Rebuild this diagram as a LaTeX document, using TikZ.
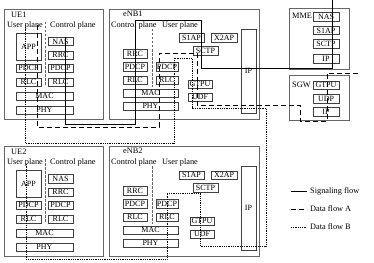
\documentclass[tikz,border=0pt]{standalone}
\usepackage{fontspec}
\setmainfont{Liberation Serif}
\usepackage{tikz}
\tikzset{
  entity/.style={rectangle, draw=black!60, line width=0.6pt, inner sep=0pt, anchor=north west},
  layer/.style={rectangle, draw=black!75, line width=0.5pt, inner sep=0pt,
    minimum height=8.5pt, font=\fontsize{8}{9}\selectfont},
  lbl/.style={anchor=west, inner sep=0pt, font=\fontsize{8.3}{9}\selectfont},
  divider/.style={draw=black!60, line width=0.5pt, dash pattern=on 2.5pt off 1.5pt},
  sigflow/.style={line width=0.9pt, color=black},
  flowa/.style={line width=0.9pt, color=black, dash pattern=on 5pt off 3pt},
  flowb/.style={line width=0.8pt, color=black, dash pattern=on 0.8pt off 1pt}
}

\begin{document}
\begin{tikzpicture}[x=1pt, y=-1pt]
  \useasboundingbox (0,0) rectangle (374,262);

  % UE1
  \node[entity, minimum width=99, minimum height=110] (ue1) at (4,9) {};
  \node[lbl] (ue1name) at (11,15) {UE1};
  \node[lbl] (ue1up) at (7,26) {User plane};
  \node[lbl] (ue1cp) at (50,26) {Control plane};
  \coordinate (ue1d1) at (45,22);
  \coordinate (ue1d2) at (45,85);
  \draw[divider] (ue1d1) -- (ue1d2);
  \node[layer, minimum width=25, minimum height=27] (ue1app) at (28.5,46.5) {APP};
  \node[layer, minimum width=25] (ue1nas) at (60.5,41.5) {NAS};
  \node[layer, minimum width=25] (ue1rrc) at (60.5,55) {RRC};
  \node[layer, minimum width=25] (ue1pdcpu) at (28.5,68) {PDCP};
  \node[layer, minimum width=25] (ue1pdcpc) at (60.5,68) {PDCP};
  \node[layer, minimum width=25] (ue1rlcu) at (28.5,82) {RLC};
  \node[layer, minimum width=25] (ue1rlcc) at (60.5,82) {RLC};
  \node[layer, minimum width=57] (ue1mac) at (44.5,96) {MAC};
  \node[layer, minimum width=57] (ue1phy) at (44.5,110) {PHY};

  % UE2
  \node[entity, minimum width=99, minimum height=110] (ue2) at (4,146) {};
  \node[lbl] (ue2name) at (11,152) {UE2};
  \node[lbl] (ue2up) at (7,163) {User plane};
  \node[lbl] (ue2cp) at (50,163) {Control plane};
  \coordinate (ue2d1) at (45,159);
  \coordinate (ue2d2) at (45,222);
  \draw[divider] (ue2d1) -- (ue2d2);
  \node[layer, minimum width=25, minimum height=27] (ue2app) at (28.5,183.5) {APP};
  \node[layer, minimum width=25] (ue2nas) at (60.5,178.5) {NAS};
  \node[layer, minimum width=25] (ue2rrc) at (60.5,192) {RRC};
  \node[layer, minimum width=25] (ue2pdcpu) at (28.5,205) {PDCP};
  \node[layer, minimum width=25] (ue2pdcpc) at (60.5,205) {PDCP};
  \node[layer, minimum width=25] (ue2rlcu) at (28.5,219) {RLC};
  \node[layer, minimum width=25] (ue2rlcc) at (60.5,219) {RLC};
  \node[layer, minimum width=57] (ue2mac) at (44.5,233) {MAC};
  \node[layer, minimum width=57] (ue2phy) at (44.5,247) {PHY};

  % eNB1
  \node[entity, minimum width=150, minimum height=110] (enb1) at (109,9) {};
  \node[lbl] (enb1name) at (123,14) {eNB1};
  \node[lbl] (enb1cp) at (111,26) {Control plane};
  \node[lbl] (enb1up) at (162,26) {User plane};
  \coordinate (enb1d1) at (152,29);
  \coordinate (enb1d2) at (152,87);
  \draw[divider] (enb1d1) -- (enb1d2);
  \node[layer, minimum width=24] (enb1rrc) at (135,53.5) {RRC};
  \node[layer, minimum width=24] (enb1pdcpc) at (135,66.5) {PDCP};
  \node[layer, minimum width=24] (enb1rlcc) at (135,80) {RLC};
  \node[layer, minimum width=22] (enb1pdcpu) at (167,66.5) {PDCP};
  \node[layer, minimum width=22] (enb1rlcu) at (167,80) {RLC};
  \node[layer, minimum width=55] (enb1mac) at (150.5,93) {MAC};
  \node[layer, minimum width=55] (enb1phy) at (150.5,106) {PHY};
  \node[layer, minimum width=25] (enb1s1ap) at (191.5,38) {S1AP};
  \node[layer, minimum width=26] (enb1x2ap) at (224,38) {X2AP};
  \node[layer, minimum width=25] (enb1sctp) at (205.5,50.5) {SCTP};
  \node[layer, minimum width=24] (enb1gtpu) at (200,84) {GTPU};
  \node[layer, minimum width=24] (enb1udf) at (200,97) {UDF};
  \node[layer, minimum width=15, minimum height=84] (enb1ip) at (248.5,71) {IP};

  % eNB2
  \node[entity, minimum width=150, minimum height=110] (enb2) at (109,146) {};
  \node[lbl] (enb2name) at (123,151) {eNB2};
  \node[lbl] (enb2cp) at (111,163) {Control plane};
  \node[lbl] (enb2up) at (162,163) {User plane};
  \coordinate (enb2d1) at (152,166);
  \coordinate (enb2d2) at (152,224);
  \draw[divider] (enb2d1) -- (enb2d2);
  \node[layer, minimum width=24] (enb2rrc) at (135,190.5) {RRC};
  \node[layer, minimum width=24] (enb2pdcpc) at (135,203.5) {PDCP};
  \node[layer, minimum width=24] (enb2rlcc) at (135,217) {RLC};
  \node[layer, minimum width=22] (enb2pdcpu) at (167,203.5) {PDCP};
  \node[layer, minimum width=22] (enb2rlcu) at (167,217) {RLC};
  \node[layer, minimum width=55] (enb2mac) at (150.5,230) {MAC};
  \node[layer, minimum width=55] (enb2phy) at (150.5,243) {PHY};
  \node[layer, minimum width=25] (enb2s1ap) at (191.5,175) {S1AP};
  \node[layer, minimum width=26] (enb2x2ap) at (224,175) {X2AP};
  \node[layer, minimum width=25] (enb2sctp) at (205.5,187.5) {SCTP};
  \node[layer, minimum width=24] (enb2gtpu) at (202,221) {GTPU};
  \node[layer, minimum width=24] (enb2udf) at (202,234) {UDF};
  \node[layer, minimum width=15, minimum height=84] (enb2ip) at (248.5,208) {IP};

  % MME
  \node[entity, minimum width=60, minimum height=61] (mme) at (289,8) {};
  \node[lbl] (mmename) at (292,16) {MME};
  \node[layer, minimum width=26] (mmenas) at (326,17) {NAS};
  \node[layer, minimum width=26] (mmes1ap) at (326,30.5) {S1AP};
  \node[layer, minimum width=26] (mmesctp) at (326,44) {SCTP};
  \node[layer, minimum width=26] (mmeip) at (326,58.5) {IP};

  % SGW
  \node[entity, minimum width=60, minimum height=45] (sgw) at (289,75) {};
  \node[lbl] (sgwname) at (292,85) {SGW};
  \node[layer, minimum width=26] (sgwgtpu) at (326,85) {GTPU};
  \node[layer, minimum width=26] (sgwudp) at (326,98.5) {UDP};
  \node[layer, minimum width=26] (sgwip) at (326,111.5) {IP};

  % Signaling flow
  \path (65,37) coordinate (s1) (65,124) coordinate (s2) (135,124) coordinate (s3)
    (135,20) coordinate (s4) (201,20) coordinate (s5) (201,68) coordinate (s6)
    (332,68) coordinate (s7) (332,0) coordinate (s8);
  \draw[sigflow] (s1) -- (s2) -- (s3) -- (s4) -- (s5) -- (s6) -- (s7) -- (s8);

  % Data flow A
  \path (37,25) coordinate (a1) (37,127) coordinate (a2) (159,127) coordinate (a3)
    (159,53) coordinate (a4) (197,53) coordinate (a5) (197,105) coordinate (a6)
    (300,105) coordinate (a7) (300,121) coordinate (a8) (327,121) coordinate (a9)
    (327,73) coordinate (a10) (358,73) coordinate (a11);
  \draw[flowa] (a1) -- (a2) -- (a3) -- (a4) -- (a5) -- (a6) -- (a7) -- (a8)
    -- (a9) -- (a10) -- (a11);

  % Data flow B
  \path (25,25) coordinate (b1) (25,143) coordinate (b2) (174,143) coordinate (b3)
    (174,58) coordinate (b4) (192,58) coordinate (b5) (192,108) coordinate (b6)
    (266,108) coordinate (b7) (266,246) coordinate (b8) (200,246) coordinate (b9)
    (200,193) coordinate (b10) (167,193) coordinate (b11) (167,259) coordinate (b12)
    (26,259) coordinate (b13) (26,163) coordinate (b14);
  \draw[flowb] (b1) -- (b2) -- (b3) -- (b4) -- (b5) -- (b6) -- (b7) -- (b8)
    -- (b9) -- (b10) -- (b11) -- (b12) -- (b13) -- (b14);

  % Legend
  \coordinate (lgs1) at (291,191);
  \coordinate (lgs2) at (307,191);
  \draw[sigflow] (lgs1) -- (lgs2);
  \node[lbl] (lgsig) at (310,191) {Signaling flow};
  \coordinate (lga1) at (291,209);
  \coordinate (lga2) at (307,209);
  \draw[flowa] (lga1) -- (lga2);
  \node[lbl] (lgdata) at (310,209) {Data flow A};
  \coordinate (lgb1) at (291,227);
  \coordinate (lgb2) at (307,227);
  \draw[flowb] (lgb1) -- (lgb2);
  \node[lbl] (lgdatb) at (310,227) {Data flow B};
\end{tikzpicture}
\end{document}
